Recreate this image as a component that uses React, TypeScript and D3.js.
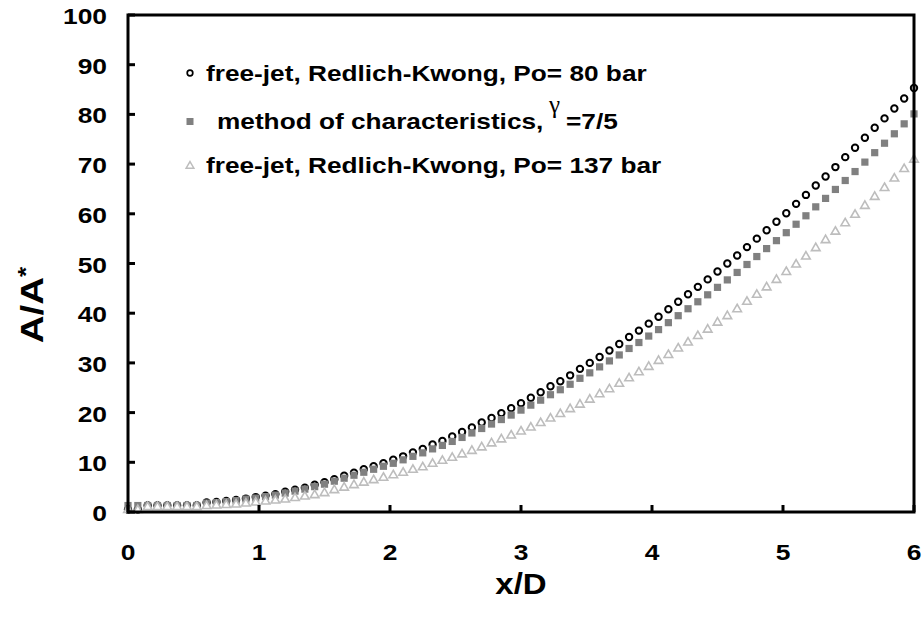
import React from 'react';
import * as d3 from 'd3';

const X_STEP = 0.075;
const xValues = d3.range(81).map((i) => +(i * X_STEP).toFixed(3));

const circlesPo80 = [0.5,0.5,1.3,1.3,1.3,1.3,1.3,1.3,1.9,2.0,2.2,2.4,2.7,3.0,3.3,3.6,4.1,4.5,4.9,5.5,6.0,6.6,7.3,7.9,8.6,9.2,9.8,10.5,11.2,12.0,12.7,13.6,14.3,15.2,16.1,17.0,18.0,18.9,19.9,20.9,21.9,23.0,24.1,25.3,26.3,27.5,28.8,30.0,31.2,32.5,33.8,35.2,36.5,37.9,39.3,40.8,42.3,43.8,45.3,46.8,48.4,50.0,51.6,53.3,55.0,56.7,58.4,60.1,62.0,63.8,65.7,67.5,69.4,71.4,73.3,75.3,77.3,79.2,81.2,83.2,85.3];
const squaresMoc = [1.3,1.3,1.3,1.3,1.3,1.3,1.3,1.3,1.8,1.9,2.1,2.3,2.6,2.8,3.1,3.4,3.8,4.2,4.6,5.1,5.6,6.2,6.8,7.4,8.0,8.6,9.2,9.8,10.5,11.2,11.9,12.7,13.4,14.2,15.0,15.9,16.8,17.7,18.6,19.5,20.5,21.5,22.5,23.6,24.6,25.7,26.9,28.0,29.2,30.4,31.6,32.9,34.1,35.4,36.7,38.1,39.5,40.9,42.3,43.7,45.2,46.7,48.2,49.8,51.4,53.0,54.6,56.2,57.9,59.6,61.4,63.1,64.9,66.7,68.5,70.4,72.3,74.2,76.1,78.1,80.1];
const trianglesPo137 = [0.4,0.4,1.0,1.0,1.0,1.0,1.0,1.0,1.2,1.3,1.4,1.5,1.7,1.9,2.1,2.3,2.5,2.8,3.1,3.4,3.8,4.4,4.9,5.4,5.9,6.4,6.9,7.4,7.9,8.5,9.0,9.7,10.3,10.9,11.6,12.3,13.0,13.8,14.6,15.4,16.2,17.0,17.9,18.8,19.7,20.7,21.6,22.6,23.7,24.7,25.8,26.9,28.1,29.2,30.4,31.6,32.9,34.1,35.4,36.7,38.1,39.4,40.8,42.3,43.7,45.2,46.7,48.3,49.8,51.4,53.1,54.7,56.4,58.1,59.8,61.6,63.4,65.2,67.1,69.0,70.9];

const xTicks = [0, 1, 2, 3, 4, 5, 6];
const yTicks = [0, 10, 20, 30, 40, 50, 60, 70, 80, 90, 100];

const legend1 = 'free-jet, Redlich-Kwong, Po= 80 bar';
const legend2a = 'method of characteristics,';
const legend2g = 'γ';
const legend2b = '=7/5';
const legend3 = 'free-jet, Redlich-Kwong, Po= 137 bar';

const FONT = "'Liberation Sans', Arial, sans-serif";

type STextProps = {
  x: number; y: number; size: number; sx: number;
  anchor?: 'start' | 'middle' | 'end'; rotate?: number; children: React.ReactNode;
  family?: string; weight?: string;
};

function SText({ x, y, size, sx, anchor = 'start', rotate, children, family, weight }: STextProps) {
  const tr = `translate(${x},${y})${rotate !== undefined ? ` rotate(${rotate})` : ''} scale(${sx},1)`;
  return (
    <text transform={tr} fontSize={size} textAnchor={anchor} fontFamily={family} fontWeight={weight}>
      {children}
    </text>
  );
}

export default function App() {
  const W = 924, H = 622;
  const left = 128, right = 914, top = 15, bottom = 512;
  const x = d3.scaleLinear().domain([0, 6]).range([left, right]);
  const y = d3.scaleLinear().domain([0, 100]).range([bottom, top]);
  const tri = d3.symbol().type(d3.symbolTriangle).size(32)() as string;
  const triLegend = d3.symbol().type(d3.symbolTriangle).size(26)() as string;

  return (
    <svg width={W} height={H} style={{ position: 'absolute', left: 0, top: 0, background: '#fff' }}
      fontFamily={FONT} fontWeight="bold">
      <rect x={0} y={0} width={W} height={H} fill="#fff" />
      {/* data */}
      <g>
        {circlesPo80.map((v, i) => (
          <circle key={'c' + i} cx={x(xValues[i])} cy={y(v)} r={3.2} fill="#fff" stroke="#000" strokeWidth={2} />
        ))}
      </g>
      <g>
        {squaresMoc.map((v, i) => (
          <rect key={'s' + i} x={x(xValues[i]) - 3.6} y={y(v) - 3.6} width={7.2} height={7.2} fill="#808080" />
        ))}
      </g>
      <g>
        {trianglesPo137.map((v, i) => (
          <path key={'t' + i} d={tri} transform={`translate(${x(xValues[i])},${y(v)})`} fill="#fff" stroke="#bdbdbd" strokeWidth={1.6} />
        ))}
      </g>
      {/* frame */}
      <rect x={left} y={top} width={right - left} height={bottom - top} fill="none" stroke="#000" strokeWidth={3} />
      {/* ticks */}
      {yTicks.map((t) => (
        <g key={'yt' + t}>
          <line x1={left} x2={left + 7} y1={y(t)} y2={y(t)} stroke="#000" strokeWidth={3} />
          <SText x={107} y={y(t) + 9} size={22} sx={1.2} anchor="end">{t}</SText>
        </g>
      ))}
      {xTicks.map((t) => (
        <g key={'xt' + t}>
          <line x1={x(t)} x2={x(t)} y1={bottom} y2={bottom - 7} stroke="#000" strokeWidth={3} />
          <SText x={x(t)} y={560} size={22} sx={1.2} anchor="middle">{t}</SText>
        </g>
      ))}
      {/* axis titles */}
      <SText x={521} y={594} size={30} sx={1.1} anchor="middle">x/D</SText>
      <SText x={43} y={305} size={32} sx={1.2} anchor="middle" rotate={-90}>
        A/A<tspan dy={-10} fontSize={22}>*</tspan>
      </SText>
      {/* legend */}
      <circle cx={190} cy={73} r={2.8} fill="#fff" stroke="#000" strokeWidth={1.7} />
      <SText x={206} y={81} size={21.5} sx={1.22}>{legend1}</SText>
      <rect x={186.5} y={118} width={7} height={7} fill="#808080" />
      <SText x={217} y={128.5} size={21.5} sx={1.22}>{legend2a}</SText>
      <SText x={549} y={113} size={25} sx={1} family="'Liberation Serif', 'Times New Roman', serif" weight="normal">{legend2g}</SText>
      <SText x={566} y={128.5} size={21.5} sx={1.22}>{legend2b}</SText>
      <path d={triLegend} transform="translate(190,166)" fill="#fff" stroke="#bdbdbd" strokeWidth={1.5} />
      <SText x={206} y={173} size={21.5} sx={1.22}>{legend3}</SText>
    </svg>
  );
}
